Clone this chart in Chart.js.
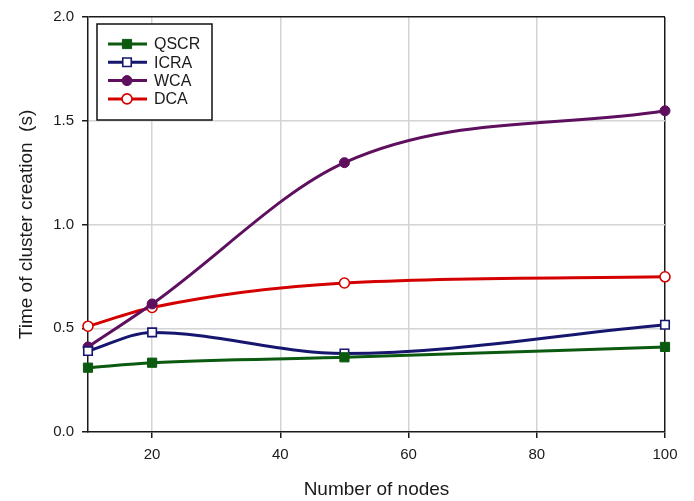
<!DOCTYPE html>
<html>
<head>
<meta charset="utf-8">
<script src="https://cdn.jsdelivr.net/npm/chart.js@4.4.1/dist/chart.umd.min.js"></script>
<style>
    html, body { margin: 0; padding: 0; background: #fff; }
</style>
</head>
<body>
<canvas id="chart" width="694" height="501"></canvas>
<script>
// cluster creation time vs. network size
const nodes = [10, 20, 50, 100];
const qscr = [0.31, 0.334, 0.36, 0.41];
const icra = [0.39, 0.48, 0.378, 0.517];
const wca = [0.41, 0.617, 1.298, 1.548];
const dca = [0.51, 0.60, 0.718, 0.748];

const xTicks = [20, 40, 60, 80, 100];
const yTicks = [0, 0.5, 1.0, 1.5, 2.0];

const FONT = 'Liberation Sans, Arial, Helvetica, sans-serif';
Chart.defaults.font.family = FONT;
Chart.defaults.color = '#1a1a1a';

const toPoints = (values) => values.map((v, i) => ({ x: nodes[i], y: v }));

const series = (label, values, color, style, filled, radius) => ({
    label: label,
    data: toPoints(values),
    borderColor: color,
    borderWidth: 3,
    backgroundColor: color,
    pointStyle: style,
    pointRadius: radius,
    pointHoverRadius: radius,
    pointBackgroundColor: filled ? color : '#ffffff',
    pointBorderColor: color,
    pointBorderWidth: filled ? 1 : 1.6,
    cubicInterpolationMode: 'monotone',
    clip: false,
});

// boxed legend in the upper-left corner of the plot
const legendBox = {
    id: 'legendBox',
    afterDatasetsDraw(chart) {
        const ctx = chart.ctx;
        const box = { x: 97, y: 24, w: 115, h: 96 };
        ctx.save();
        ctx.fillStyle = '#ffffff';
        ctx.fillRect(box.x, box.y, box.w, box.h);
        ctx.strokeStyle = '#111111';
        ctx.lineWidth = 1.5;
        ctx.strokeRect(box.x, box.y, box.w, box.h);

        chart.data.datasets.forEach((ds, i) => {
            const y = 44 + i * 18.3;
            ctx.strokeStyle = ds.borderColor;
            ctx.lineWidth = 3;
            ctx.beginPath();
            ctx.moveTo(108, y);
            ctx.lineTo(147, y);
            ctx.stroke();

            ctx.fillStyle = ds.pointBackgroundColor;
            ctx.strokeStyle = ds.pointBorderColor;
            ctx.lineWidth = ds.pointBorderWidth;
            Chart.helpers.drawPoint(ctx, {
                pointStyle: ds.pointStyle,
                radius: ds.pointRadius,
                borderWidth: ds.pointBorderWidth,
                rotation: 0,
            }, 127, y);

            ctx.fillStyle = '#1a1a1a';
            ctx.font = '16px ' + FONT;
            ctx.textBaseline = 'middle';
            ctx.fillText(ds.label, 154, y + 1);
        });
        ctx.restore();
    }
};

new Chart(document.getElementById('chart'), {
    type: 'line',
    data: {
        datasets: [
            series('QSCR', qscr, '#0b5a10', 'rect', true, 6.5),
            series('ICRA', icra, '#16166e', 'rect', false, 6),
            series('WCA', wca, '#5e0f5e', 'circle', true, 5),
            series('DCA', dca, '#d40000', 'circle', false, 5),
        ]
    },
    options: {
        responsive: false,
        animation: false,
        layout: { padding: { top: 17, right: 29, left: 0, bottom: 0 } },
        plugins: {
            legend: { display: false },
            tooltip: { enabled: false },
        },
        scales: {
            x: {
                type: 'linear',
                min: 10,
                max: 100,
                afterBuildTicks: (scale) => {
                    scale.ticks = xTicks.map(v => ({ value: v }));
                },
                afterFit: (scale) => { scale.height = 69; },
                ticks: {
                    padding: 8,
                    maxRotation: 0,
                    font: { size: 15 },
                },
                grid: {
                    color: (c) => c.tick && c.tick.value === 100 ? '#1a1a1a' : '#d4d4d4',
                    lineWidth: (c) => c.tick && c.tick.value === 100 ? 1.5 : 1.5,
                    tickColor: '#1a1a1a',
                    tickLength: 6,
                    tickWidth: 1.5,
                },
                border: { display: true, color: '#1a1a1a', width: 1.5 },
                title: {
                    display: true,
                    text: 'Number of nodes',
                    font: { size: 19 },
                    padding: { top: 1, bottom: 0 },
                },
            },
            y: {
                min: 0,
                max: 2,
                afterBuildTicks: (scale) => {
                    scale.ticks = yTicks.map(v => ({ value: v }));
                },
                afterFit: (scale) => { scale.width = 88; },
                ticks: {
                    padding: 8,
                    font: { size: 15 },
                    callback: (v) => Number(v).toFixed(1),
                },
                grid: {
                    color: (c) => {
                        if (!c.tick) return '#d4d4d4';
                        if (c.tick.value === 2) return '#1a1a1a';
                        if (c.tick.value === 0) return 'rgba(0,0,0,0)';
                        return '#d4d4d4';
                    },
                    lineWidth: 1.5,
                    tickColor: '#1a1a1a',
                    tickLength: 6,
                    tickWidth: 1.5,
                },
                border: { display: true, color: '#1a1a1a', width: 1.5 },
                title: {
                    display: true,
                    text: 'Time of cluster creation  (s)',
                    font: { size: 19 },
                    padding: { top: 15, bottom: 0 },
                },
            },
        },
    },
    plugins: [legendBox],
});
</script>
</body>
</html>
